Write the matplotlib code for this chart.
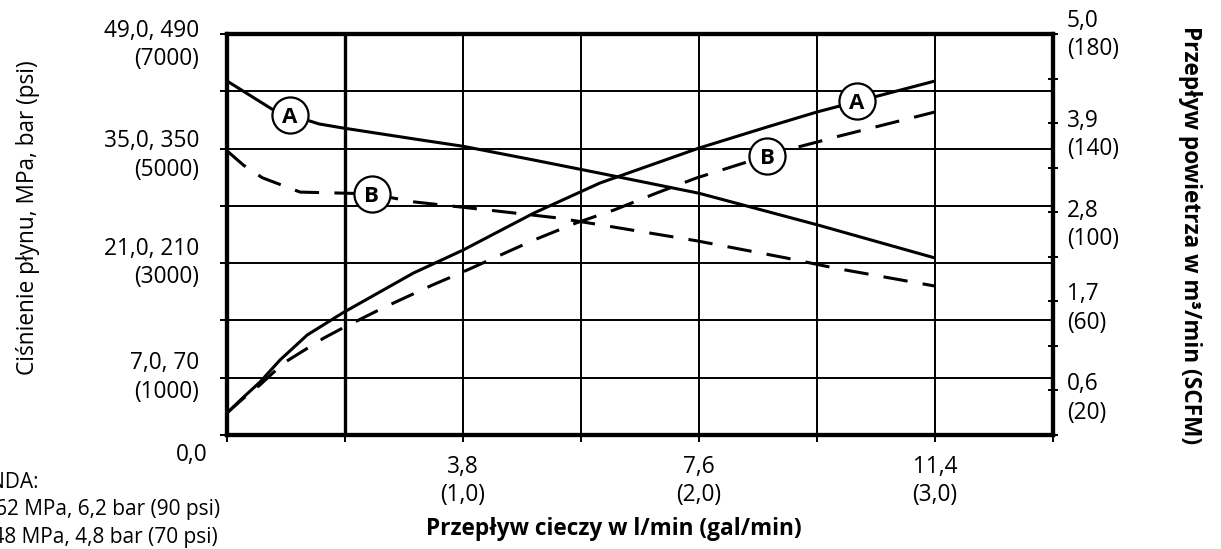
from numpy import *
from matplotlib.pyplot import *
from matplotlib.transforms import offset_copy

rcParams['font.family'] = ['Open Sans', 'DejaVu Sans']
rcParams['font.size'] = 16.3

# ciśnienie płynu (psi) w funkcji przepływu cieczy (gal/min)
q_cisn_A = [0, 0.19, 0.39, 0.49, 0.79, 1.0, 1.3, 1.58, 2.0, 2.5, 3.0]
p_A = [6180, 5690, 5430, 5360, 5170, 5040, 4800, 4570, 4220, 3670, 3090]

q_cisn_B = [0, 0.07, 0.15, 0.31, 0.51, 0.61, 0.79, 1.1, 1.4, 1.58, 1.99, 2.37, 2.58, 3.0]
p_B = [4960, 4710, 4490, 4240, 4220, 4210, 4070, 3930, 3790, 3670, 3390, 3090, 2910, 2600]

# przepływ powietrza (SCFM) w funkcji przepływu cieczy (gal/min)
q_pow_A = [0, 0.07, 0.14, 0.225, 0.34, 0.49, 0.79, 1.0, 1.3, 1.58, 2.0, 2.29, 2.5, 3.0]
f_A = [9.9, 17.0, 23.8, 33.7, 44.9, 54.8, 72.7, 83.0, 99.6, 113.1, 128.8, 138.3, 145.0, 158.9]

q_pow_B = [0, 0.07, 0.14, 0.24, 0.41, 0.49, 0.66, 0.87, 1.0, 1.3, 1.48, 1.64, 1.82, 1.99,
           2.19, 2.37, 2.5, 2.58, 3.0]
f_B = [9.9, 16.5, 22.5, 32.3, 43.5, 48.0, 57.0, 67.3, 73.2, 87.5, 95.2, 101.0, 108.6, 115.4,
       122.1, 127.9, 131.5, 133.8, 145.0]

# opisy osi
q_ticks = [1.0, 2.0, 3.0]
q_labels = ['3,8\n(1,0)', '7,6\n(2,0)', '11,4\n(3,0)']

psi_ticks = [7000, 5000, 3000, 1000]
psi_labels = ['49,0, 490\n(7000)', '35,0, 350\n(5000)', '21,0, 210\n(3000)', '7,0, 70\n(1000)']

scfm_ticks = [180, 140, 100, 60, 20]
scfm_labels = ['5,0\n(180)', '3,9\n(140)', '2,8\n(100)', '1,7\n(60)', '0,6\n(20)']

legenda = ['LEGENDA:', 'A = 0,62 MPa, 6,2 bar (90 psi)', 'B = 0,48 MPa, 4,8 bar (70 psi)']

fig = figure(figsize=(12.21, 5.49), dpi=100)
ax = fig.add_axes([227 / 1221, 114 / 549, 826 / 1221, 401 / 549])
ax2 = ax.twinx()

ax.set_xlim(0, 3.5)
ax.set_ylim(0, 7000)
ax2.set_ylim(0, 180)

# siatka
ax.set_xticks(arange(0, 3.51, 0.5))
ax.set_yticks(arange(0, 7001, 1000))
ax.set_xticklabels([])
ax.set_yticklabels([])
ax.grid(True, color='black', linewidth=1.4)
ax.axvline(0.5, color='black', linewidth=2.4)
ax.tick_params(axis='both', direction='out', length=5, width=1.4, color='black')

ax2.set_yticks(arange(0, 181, 20))
ax2.set_yticklabels([])
ax2.tick_params(axis='y', direction='inout', length=7, width=1.4, color='black')

for a in (ax, ax2):
    for s in a.spines.values():
        s.set_linewidth(3)
        s.set_color('black')

# krzywe
ax.plot(q_cisn_A, p_A, color='black', linewidth=2.2, solid_capstyle='butt', zorder=3)
ax.plot(q_cisn_B, p_B, color='black', linewidth=2.2, dashes=(8, 5), zorder=3)
ax2.plot(q_pow_A, f_A, color='black', linewidth=2.2, solid_capstyle='butt', zorder=3)
ax2.plot(q_pow_B, f_B, color='black', linewidth=2.2, dashes=(8, 5), zorder=3)

# kółka z literami na krzywych
znaczniki = [
    ('A', ax, q_cisn_A, p_A, 0.267),
    ('B', ax, q_cisn_B, p_B, 0.614),
    ('A', ax2, q_pow_A, f_A, 2.67),
    ('B', ax2, q_pow_B, f_B, 2.29),
]
for lit, a, qs, vals, q0 in znaczniki:
    y0 = interp(q0, qs, vals)
    a.plot(q0, y0, 'o', markersize=26, markerfacecolor='white',
           markeredgecolor='black', markeredgewidth=1.6, zorder=5)
    a.text(q0, y0, lit, ha='center', va='center_baseline', fontweight='bold',
           fontsize=16, zorder=6)

# etykiety osi x
for q, lab in zip(q_ticks, q_labels):
    tr = offset_copy(ax.get_xaxis_transform(), fig=fig, x=0, y=-46, units='dots')
    ax.text(q, 0, lab, transform=tr, ha='center', va='center', linespacing=1.25)
tr = offset_copy(ax.get_xaxis_transform(), fig=fig, x=-35, y=-20, units='dots')
ax.text(0, 0, '0,0', transform=tr, ha='center', va='center')

# etykiety lewej osi
przes_l = [11, 7, 0, 0]
for v, lab, dy in zip(psi_ticks, psi_labels, przes_l):
    tr = offset_copy(ax.get_yaxis_transform(), fig=fig, x=-28, y=-dy, units='dots')
    ax.text(0, v, lab, transform=tr, ha='right', va='center', linespacing=1.25)

# etykiety prawej osi
przes_p = [1, 12, 13, 7, 8]
for v, lab, dy in zip(scfm_ticks, scfm_labels, przes_p):
    tr = offset_copy(ax2.get_yaxis_transform(), fig=fig, x=14, y=-dy, units='dots')
    ax2.text(1, v, lab, transform=tr, ha='left', va='center', linespacing=1.25)

# tytuły osi
fig.text(28 / 1221, 1 - 218 / 549, 'Ciśnienie płynu, MPa, bar (psi)',
         rotation=90, ha='center', va='center')
fig.text(1190 / 1221, 1 - 235 / 549, 'Przepływ powietrza w m³/min (SCFM)',
         rotation=270, ha='center', va='center', fontweight='bold')
fig.text(614 / 1221, 1 - 529 / 549, 'Przepływ cieczy w l/min (gal/min)',
         ha='center', va='center', fontweight='bold')

# legenda (ucięta z lewej strony)
for txt, xr, yc in zip(legenda, [39, 220, 218], [483, 509, 537]):
    fig.text(xr / 1221, 1 - yc / 549, txt, ha='right', va='center', fontsize=15)

savefig('out.png', dpi=100)
